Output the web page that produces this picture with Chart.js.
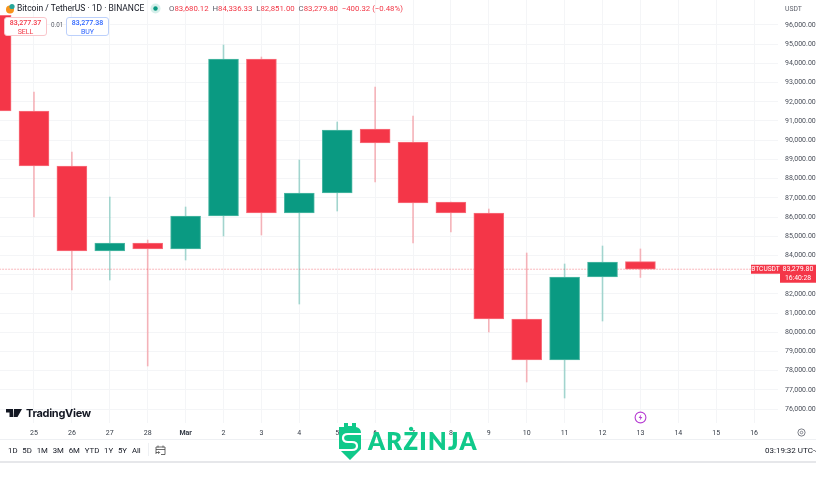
<!DOCTYPE html>
<html><head><meta charset="utf-8">
<script src="https://cdn.jsdelivr.net/npm/chart.js@4"></script>
<style>
html,body{margin:0;padding:0;background:#fff;width:816px;height:487px;overflow:hidden;font-family:Roboto,"Noto Sans",sans-serif;}
#wrap{position:absolute;left:0;top:0;width:816px;height:461px;}
.t{position:absolute;white-space:nowrap;color:#131722;}
.box{position:absolute;background:#fff;border-radius:3px;text-align:center;box-sizing:border-box;}
</style></head><body>
<div id="wrap"><canvas id="c" width="816" height="461"></canvas></div>

<div class="t" style="left:17px;top:2px;font-size:8.5px;line-height:13px;">Bitcoin / TetherUS · 1D · BINANCE</div>
<svg style="position:absolute;left:5px;top:3px" width="10" height="11"><circle cx="5" cy="6.5" r="4" fill="#f7931a"/><circle cx="7" cy="3.5" r="2.6" fill="#26a69a"/></svg>
<svg style="position:absolute;left:150px;top:3px" width="11" height="11"><circle cx="5.5" cy="5.5" r="5" fill="#d5efea"/><circle cx="5.5" cy="5.5" r="2.2" fill="#089981"/></svg>
<div class="t" style="left:169px;top:2px;font-size:7.8px;line-height:13px;color:#5d606b;">O<span style="color:#f23645">83,680.12</span> &nbsp;H<span style="color:#f23645">84,336.33</span> &nbsp;L<span style="color:#f23645">82,851.00</span> &nbsp;C<span style="color:#f23645">83,279.80</span> &nbsp;<span style="color:#f23645">−400.32 (−0.48%)</span></div>

<div class="box" style="left:4px;top:17px;width:43px;height:19px;border:1px solid #f9c6cb;color:#f23645;font-size:7px;line-height:8.5px;padding-top:1px;"><b style="font-weight:500">83,277.37</b><br>SELL</div>
<div class="t" style="left:51px;top:21px;font-size:6.3px;color:#5d606b;">0.01</div>
<div class="box" style="left:66px;top:17px;width:43px;height:19px;border:1px solid #bcd0fb;color:#2962ff;font-size:7px;line-height:8.5px;padding-top:1px;"><b style="font-weight:500">83,277.38</b><br>BUY</div>

<div class="t" style="left:785px;top:5px;font-size:6.8px;color:#5d606b;">USDT</div>

<svg style="position:absolute;left:6px;top:409px" width="17" height="9"><path d="M0 0h7v8H3.5V3.5H0z M8 0h8l-4.5 8H7.5z" fill="#131722"/><circle cx="9.5" cy="2" r="1.6" fill="#131722"/></svg>
<div class="t" style="left:26px;top:406px;font-size:11px;line-height:15px;font-weight:700;font-family:Inter,Roboto,sans-serif;letter-spacing:-.3px;">TradingView</div>

<svg style="position:absolute;left:634px;top:411px" width="13" height="13"><circle cx="6.5" cy="6.5" r="5.4" fill="#fff" stroke="#b63cd2" stroke-width="1.1"/><path d="M7.3 3.2 4.6 7h1.8l-.8 2.8L8.4 6H6.6z" fill="#b63cd2"/></svg>
<svg style="position:absolute;left:797px;top:428px" width="9" height="9"><circle cx="4.5" cy="4.5" r="3.6" fill="none" stroke="#5d606b" stroke-width=".8"/><circle cx="4.5" cy="4.5" r="1.3" fill="none" stroke="#5d606b" stroke-width=".7"/></svg>

<div style="position:absolute;left:0;top:439px;width:816px;height:1px;background:#eef0f3"></div>
<div style="position:absolute;left:0;top:461px;width:816px;height:2px;background:#e6e7ea"></div>
<div class="t" id="ranges" style="left:8px;top:445px;font-size:7.8px;line-height:11px;word-spacing:2.9px;">1D 5D 1M 3M 6M YTD 1Y 5Y All</div>
<div style="position:absolute;left:148px;top:443px;width:1px;height:13px;background:#eef0f3"></div>
<svg style="position:absolute;left:155px;top:444px" width="11" height="12"><path d="M1 3h9v7.5H6M1 3v7M3 1.5v2M8 1.5v2M1 5.5h9M1 8.5h3.5M3.3 7.2l1.3 1.3-1.3 1.3" fill="none" stroke="#444" stroke-width=".8"/></svg>
<div class="t" style="left:765px;top:445px;font-size:8px;line-height:11px;">03:19:32 UTC-4</div>

<svg style="position:absolute;left:337px;top:421px" width="26" height="41" viewBox="0 0 26 41"><path d="M2 6H7V2H11V5H15V2H19V6Q24 7 24 12V28L13 39L2 28Z" fill="#10c98a"/><path d="M25 13H11Q6 13 6 17Q6 21 11 21H15Q20 21 20 25Q20 29 15 29H1" fill="none" stroke="#fff" stroke-width="2.2"/></svg>
<div class="t" style="left:368px;top:427px;font-size:24px;line-height:28px;font-weight:800;color:#10c98a;font-family:Lato,Roboto,sans-serif;letter-spacing:1.3px;">ARŻINJA</div>

<script>
// ---- data ----
const dates  = ["24","25","26","27","28","Mar","2","3","4","5","6","7","8","9","10","11","12","13","14","15","16"];
const opens  = [96500,91521,88656,84229,84646,84333,86052,94229,86208,87250,90583,89906,86781,86208,80688,78552,82875,83680];
const closes = [91521,88656,84229,84646,84333,86052,94229,86208,87250,90531,89854,86729,86208,80688,78552,82875,83656,83279.8];
const highs  = [97600,92510,89385,87042,84800,86521,94958,94333,88969,90948,92771,91260,86781,86417,84125,83552,84490,84336.33];
const lows   = [91521,86000,82198,82719,78240,83760,85010,85063,81469,86312,87823,84646,85219,80010,77406,76573,80583,82851];
const priceTicks = [76000,77000,78000,79000,80000,81000,82000,83000,84000,85000,86000,87000,88000,89000,90000,91000,92000,93000,94000,95000,96000];
const lastPrice = 83279.80;
const symbolTag = "BTCUSDT";
const countdown = "16:40:28";

const UP="#0a9a82", DOWN="#f43648";
const isUp = i => closes[i]>=opens[i];
const colorOf = i => isUp(i) ? UP : DOWN;
const edgeOf = i => isUp(i) ? "#4fb8a5" : "#f8707d";
const wickColorOf = i => isUp(i) ? "rgba(8,153,129,.35)" : "rgba(242,54,69,.35)";
const idx = opens.map((_,i)=>i);

const priceTag = {
  id:"priceTag",
  afterDraw(ch){
    const c=ch.ctx, y=ch.scales.y.getPixelForValue(lastPrice), R=ch.width;
    c.save();
    const L=780;
    c.fillStyle=DOWN;
    c.fillRect(751,y-4.5,29,9);
    c.fillRect(L,y-4.5,R-L,18);
    c.fillStyle="#fff"; c.textBaseline="middle"; c.textAlign="center";
    c.font="6.6px Roboto";
    c.fillText(symbolTag,765.5,y+.3);
    c.font="7px Roboto";
    c.fillText(lastPrice.toLocaleString("en-US",{minimumFractionDigits:2}),(L+R)/2,y+.3);
    c.font="6.8px Roboto";
    c.fillText(countdown,(L+R)/2,y+9);
    c.restore();
  }
};

new Chart(document.getElementById("c"),{
  type:"bar",
  data:{datasets:[
    {type:"line",label:"last",data:[{x:0,y:lastPrice},{x:dates.length,y:lastPrice}],borderColor:"rgba(242,54,69,.35)",borderWidth:1,borderDash:[2,1],pointRadius:0,order:3},
    {label:"body",grouped:false,barThickness:30,order:1,borderWidth:1,borderSkipped:false,
     data:idx.map(i=>({x:i,y:[opens[i],closes[i]]})),backgroundColor:idx.map(colorOf),borderColor:idx.map(edgeOf)},
    {label:"wick",grouped:false,barThickness:1,order:2,borderWidth:0,
     data:idx.map(i=>({x:i,y:[lows[i],highs[i]]})),backgroundColor:idx.map(wickColorOf)}
  ]},
  options:{
    responsive:false,animation:false,
    layout:{padding:0},
    plugins:{legend:{display:false},tooltip:{enabled:false}},
    scales:{
      x:{type:"linear",offset:false,min:0.103,max:20.63,
        afterFit(s){s.height=461-423;s.paddingLeft=0;s.paddingRight=0;},
        afterBuildTicks(s){s.ticks=dates.map((d,i)=>({value:i})).filter(t=>t.value>=1);},
        grid:{color:"#f4f5f7",drawTicks:false,offset:false},border:{display:false},
        ticks:{autoSkip:false,maxRotation:0,padding:6,color:"#333a45",align:"center",
          font:c=>({size:7,family:"Roboto",weight:dates[c.tick?.value]==="Mar"?"700":"400"}),
          callback:v=>dates[v]}},
      y:{position:"right",min:75271,max:97302,
        afterFit(s){s.width=816-778;s.paddingTop=0;s.paddingBottom=0;},
        afterBuildTicks(s){s.ticks=priceTicks.map(v=>({value:v}));},
        grid:{color:"#f4f5f7",drawTicks:false},border:{display:false},
        ticks:{autoSkip:false,padding:7,color:"#4a4f5a",font:{size:7,family:"Roboto"},
          callback:v=>v.toLocaleString("en-US",{minimumFractionDigits:2})}}
    }
  },
  plugins:[priceTag]
});
</script>
</body></html>
